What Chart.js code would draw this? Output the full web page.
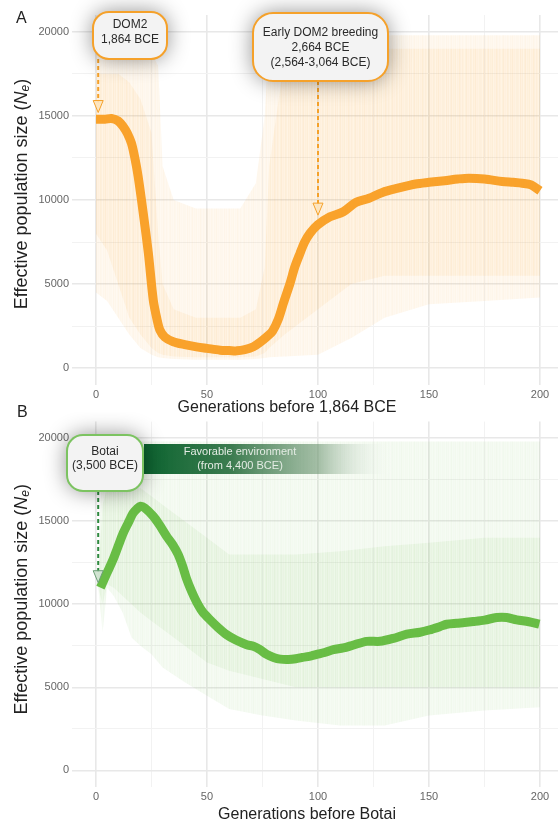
<!DOCTYPE html>
<html>
<head>
<meta charset="utf-8">
<script src="https://cdn.jsdelivr.net/npm/chart.js@4.4.1/dist/chart.umd.min.js"></script>
<style>
    html, body { margin: 0; padding: 0; background: #fff; }
    #wrap { position: relative; width: 558px; height: 825px; overflow: hidden; }
    #chartA { position: absolute; left: 0; top: 0; }
    #chartB { position: absolute; left: 0; top: 412px; }
    .panelLetter { position: absolute; font: 16px "Liberation Sans", Arial, sans-serif; color: #222; }
</style>
</head>
<body>
<div id="wrap">
    <canvas id="chartA" width="558" height="416"></canvas>
    <canvas id="chartB" width="558" height="413"></canvas>
    <div class="panelLetter" style="left:16px; top:9px;">A</div>
    <div class="panelLetter" style="left:17px; top:403px;">B</div>
</div>
<script>
// axis ticks (minor gridlines every 25 generations / 2500 Ne)
const genTicks = [0, 25, 50, 75, 100, 125, 150, 175, 200];
const neTicks = [0, 2500, 5000, 7500, 10000, 12500, 15000, 17500, 20000];

// Panel A - DOM2 horses, median Ne trajectory
const lineGensA = [0, 4, 7, 10, 12.3, 14, 16, 17.5, 19, 21.3, 23.6, 25.8, 27.5, 28.8, 31, 34.8, 40, 45.3, 50, 55.9, 60, 63.4, 67, 70.9, 74, 76.9, 79.5, 82.1, 84.5, 87.4, 89.5, 91.9, 94, 96.4, 99.8, 105.4, 111.4, 117, 123, 129, 136, 144, 150, 157, 163, 168, 175, 183, 188, 192, 196, 200];
const lineNeA = [14800, 14800, 14850, 14700, 14360, 14000, 13370, 12500, 11390, 9210, 6830, 4050, 2900, 2260, 1850, 1570, 1400, 1270, 1180, 1070, 1050, 1030, 1100, 1270, 1550, 1860, 2200, 2900, 3900, 5040, 6000, 6830, 7500, 8020, 8510, 9000, 9300, 9850, 10100, 10450, 10700, 10950, 11050, 11150, 11250, 11300, 11250, 11100, 11050, 11000, 10900, 10550];

// Panel A - spread of the replicate trajectories
const bandGensA = [0, 5, 10, 15, 20, 25, 28, 30, 35, 45, 55, 65, 72, 76, 78, 85, 100, 115, 130, 150, 175, 200];
const outerUpperA = [18700, 18700, 18700, 18700, 18700, 18700, 18000, 12000, 10000, 9500, 9500, 9500, 11000, 15000, 19800, 19800, 19800, 19800, 19800, 19800, 19800, 19800];
const outerLowerA = [4500, 4000, 3000, 2000, 1200, 800, 650, 600, 550, 500, 500, 500, 550, 600, 650, 700, 800, 1800, 3000, 3800, 4000, 4200];
const innerUpperA = [17500, 17500, 17500, 17000, 16000, 14000, 8000, 5000, 3500, 3000, 3000, 3000, 3500, 6000, 12000, 18500, 19000, 19000, 19000, 19000, 19000, 19000];
const innerLowerA = [8000, 7000, 5000, 3000, 2000, 1200, 900, 800, 700, 650, 650, 650, 700, 900, 1200, 2000, 3500, 5000, 5500, 5500, 5500, 5500];

// Panel B - Botai horses, median Ne trajectory
const lineGensB = [2, 5, 7.8, 10, 12.3, 14.5, 16.8, 18.5, 20, 22, 25.8, 28.5, 31.8, 34.5, 37, 39, 40.8, 43, 45.3, 48, 51.4, 55, 58.9, 63, 67.9, 70.9, 73.5, 76.9, 80, 83, 86.6, 90, 93, 97, 99.4, 103, 106.9, 111.4, 116, 121.9, 127.9, 134, 140, 146, 150, 155, 158, 162.5, 166, 170, 175, 180.5, 185, 189.5, 195, 199.7];
const lineNeB = [11000, 11900, 12730, 13500, 14300, 14900, 15500, 15750, 15900, 15800, 15300, 14800, 14100, 13600, 13000, 12300, 11540, 10800, 10150, 9550, 9060, 8600, 8170, 7850, 7570, 7470, 7300, 6980, 6800, 6700, 6680, 6720, 6800, 6900, 6980, 7100, 7270, 7370, 7550, 7770, 7770, 7950, 8200, 8320, 8450, 8660, 8800, 8860, 8900, 8960, 9050, 9200, 9200, 9060, 8950, 8800];

// Panel B - spread of the replicate trajectories
const bandGensB = [1, 3, 5, 8, 12, 16, 20, 25, 30, 40, 50, 60, 75, 90, 110, 130, 150, 175, 200];
const outerUpperB = [12000, 19500, 19800, 19800, 19800, 19800, 19800, 19800, 19800, 19800, 19800, 19800, 19800, 19800, 19800, 19800, 19800, 19800, 19800];
const outerLowerB = [11000, 8300, 11000, 10500, 9500, 8000, 7500, 7000, 6200, 5300, 4500, 3700, 3300, 3000, 2700, 2700, 3300, 3600, 3800];
const innerUpperB = [11500, 16000, 17000, 17000, 17000, 17000, 17000, 16500, 16000, 15000, 14000, 13000, 13000, 13000, 13200, 13500, 13700, 14000, 14000];
const innerLowerB = [11000, 10000, 11200, 11000, 10500, 10000, 9500, 9000, 8500, 7500, 6500, 6000, 5500, 5000, 5000, 5000, 5000, 5000, 5000];

const FONT = '"Liberation Sans", Arial, sans-serif';

// column strengths for the streaky texture of the replicate cloud
const streakAlphas = [0.10, 0.05, 0.14, 0.07, 0.12, 0.04, 0.09, 0.16, 0.06, 0.11, 0.08, 0.13, 0.05, 0.10, 0.07, 0.15, 0.09, 0.06, 0.12, 0.08, 0.04, 0.11, 0.14, 0.07, 0.10, 0.06, 0.13, 0.09, 0.05, 0.12, 0.08, 0.16, 0.07, 0.10, 0.06, 0.11, 0.09];

function toPoints(xs, ys) {
    return xs.map(function (x, i) { return { x: x, y: ys[i] }; });
}

// solid tint with faint vertical streaks
function makeStreaks(rgb, base, spread) {
    const c = document.createElement('canvas');
    c.width = streakAlphas.length;
    c.height = 4;
    const cctx = c.getContext('2d');
    streakAlphas.forEach(function (a, i) {
        cctx.fillStyle = 'rgba(' + rgb + ',' + (base + a * spread).toFixed(3) + ')';
        cctx.fillRect(i, 0, 1, 4);
    });
    return cctx.createPattern(c, 'repeat');
}

// draws axis titles, callout boxes, arrows and the banner
const panelDecor = {
    id: 'panelDecor',
    afterDraw(chart, args, opts) {
        const ctx = chart.ctx;
        const area = chart.chartArea;
        const xScale = chart.scales.x;
        const yScale = chart.scales.y;

        // y title with italic N and subscript e
        const parts = [
            { t: 'Effective population size (', f: '18px ' + FONT, dy: 0 },
            { t: 'N', f: 'italic 18px ' + FONT, dy: 0 },
            { t: 'e', f: 'italic 12px ' + FONT, dy: 4 },
            { t: ')', f: '18px ' + FONT, dy: 0 }
        ];
        ctx.save();
        let total = 0;
        parts.forEach(function (p) { ctx.font = p.f; p.w = ctx.measureText(p.t).width; total += p.w; });
        ctx.translate(opts.yTitleX, (area.top + area.bottom) / 2 + opts.yTitleShift);
        ctx.rotate(-Math.PI / 2);
        ctx.fillStyle = '#222';
        ctx.textBaseline = 'middle';
        ctx.textAlign = 'left';
        let cx = -total / 2;
        parts.forEach(function (p) { ctx.font = p.f; ctx.fillText(p.t, cx, p.dy); cx += p.w; });
        ctx.restore();

        // x title
        ctx.save();
        ctx.font = '16px ' + FONT;
        ctx.fillStyle = '#222';
        ctx.textAlign = 'center';
        ctx.textBaseline = 'middle';
        ctx.fillText(opts.xTitle.text, opts.xTitle.x, opts.xTitle.y);
        ctx.restore();

        // gradient banner
        if (opts.banner) {
            const b = opts.banner;
            ctx.save();
            const grad = ctx.createLinearGradient(b.x1, 0, b.x2, 0);
            grad.addColorStop(0, 'rgba(12,100,48,1)');
            grad.addColorStop(0.35, 'rgba(40,110,62,0.9)');
            grad.addColorStop(0.7, 'rgba(110,150,115,0.6)');
            grad.addColorStop(1, 'rgba(255,255,255,0)');
            ctx.fillStyle = grad;
            ctx.fillRect(b.x1, b.y1, b.x2 - b.x1, b.y2 - b.y1);
            ctx.font = '11px ' + FONT;
            ctx.fillStyle = '#e4ece4';
            ctx.textAlign = 'center';
            ctx.textBaseline = 'middle';
            b.lines.forEach(function (t, i) { ctx.fillText(t, b.textX, b.lineY[i]); });
            ctx.restore();
        }

        // callouts
        opts.callouts.forEach(function (c) {
            const ax = xScale.getPixelForValue(c.arrow.gen);
            const tipY = yScale.getPixelForValue(c.arrow.ne);
            ctx.save();
            ctx.strokeStyle = c.arrow.color;
            ctx.lineWidth = 2;
            ctx.setLineDash([4, 3]);
            ctx.beginPath();
            ctx.moveTo(ax, c.box.y2);
            ctx.lineTo(ax, tipY - 10);
            ctx.stroke();
            ctx.setLineDash([]);
            ctx.beginPath();
            ctx.moveTo(ax - 5, tipY - 12);
            ctx.lineTo(ax + 5, tipY - 12);
            ctx.lineTo(ax, tipY);
            ctx.closePath();
            ctx.fillStyle = c.arrow.headFill;
            ctx.fill();
            ctx.lineWidth = 1;
            ctx.strokeStyle = c.arrow.headStroke;
            ctx.stroke();
            ctx.restore();

            const b = c.box;
            ctx.save();
            ctx.beginPath();
            ctx.roundRect(b.x1, b.y1, b.x2 - b.x1, b.y2 - b.y1, b.r);
            ctx.shadowColor = 'rgba(0,0,0,0.45)';
            ctx.shadowBlur = 22;
            ctx.fillStyle = '#f3f3f3';
            ctx.fill();
            ctx.shadowColor = 'transparent';
            ctx.shadowBlur = 0;
            ctx.lineWidth = 2;
            ctx.strokeStyle = c.border;
            ctx.stroke();
            ctx.font = '12px ' + FONT;
            ctx.fillStyle = '#2a2a2a';
            ctx.textAlign = 'center';
            ctx.textBaseline = 'middle';
            c.lines.forEach(function (t, i) { ctx.fillText(t, (b.x1 + b.x2) / 2, c.lineY[i]); });
            ctx.restore();
        });
    }
};

function buildPanel(canvasId, panel) {
    const canvas = document.getElementById(canvasId);

    return new Chart(canvas, {
        type: 'line',
        data: {
            datasets: [
                {
                    data: toPoints(panel.bandGens, panel.outerUpper),
                    borderWidth: 0, pointRadius: 0, fill: false, order: 3
                },
                {
                    data: toPoints(panel.bandGens, panel.outerLower),
                    borderWidth: 0, pointRadius: 0, fill: '-1',
                    backgroundColor: makeStreaks(panel.cloudRgb, panel.outerBase, 0.4), order: 3
                },
                {
                    data: toPoints(panel.bandGens, panel.innerUpper),
                    borderWidth: 0, pointRadius: 0, fill: false, order: 2
                },
                {
                    data: toPoints(panel.bandGens, panel.innerLower),
                    borderWidth: 0, pointRadius: 0, fill: '-1',
                    backgroundColor: makeStreaks(panel.cloudRgb, panel.innerBase, 0.4), order: 2
                },
                {
                    data: toPoints(panel.lineGens, panel.lineNe),
                    borderColor: panel.lineColor,
                    borderWidth: 9,
                    borderCapStyle: 'butt',
                    borderJoinStyle: 'round',
                    pointRadius: 0,
                    tension: 0.3,
                    fill: false,
                    order: 0
                }
            ]
        },
        options: {
            responsive: false,
            animation: false,
            layout: {
                padding: { top: panel.padTop, right: 0, bottom: 0, left: 0 }
            },
            scales: {
                x: {
                    type: 'linear',
                    min: -10.8,
                    max: 208.1,
                    afterBuildTicks: function (scale) {
                        scale.ticks = genTicks.map(function (v) { return { value: v }; });
                    },
                    afterFit: function (scale) { scale.height = panel.xAxisHeight; },
                    ticks: {
                        autoSkip: false,
                        maxRotation: 0,
                        padding: 3,
                        color: '#666',
                        font: { family: FONT, size: 11 },
                        callback: function (value) { return value % 50 === 0 ? String(value) : ''; }
                    },
                    grid: {
                        drawTicks: false,
                        color: function (ctx) { return ctx.tick && ctx.tick.value % 50 === 0 ? '#e8e8e8' : '#f2f2f2'; },
                        lineWidth: function (ctx) { return ctx.tick && ctx.tick.value % 50 === 0 ? 1.6 : 1; }
                    },
                    border: { display: false }
                },
                y: {
                    type: 'linear',
                    min: -1000,
                    max: 21000,
                    afterBuildTicks: function (scale) {
                        scale.ticks = neTicks.map(function (v) { return { value: v }; });
                    },
                    afterFit: function (scale) { scale.width = 72; },
                    ticks: {
                        autoSkip: false,
                        padding: 3,
                        color: '#666',
                        font: { family: FONT, size: 11 },
                        callback: function (value) { return value % 5000 === 0 ? String(value) : ''; }
                    },
                    grid: {
                        drawTicks: false,
                        color: function (ctx) { return ctx.tick && ctx.tick.value % 5000 === 0 ? '#e8e8e8' : '#f2f2f2'; },
                        lineWidth: function (ctx) { return ctx.tick && ctx.tick.value % 5000 === 0 ? 1.6 : 1; }
                    },
                    border: { display: false }
                }
            },
            plugins: {
                legend: { display: false },
                tooltip: { enabled: false },
                panelDecor: panel.decor
            }
        },
        plugins: [panelDecor]
    });
}

buildPanel('chartA', {
    lineGens: lineGensA, lineNe: lineNeA,
    bandGens: bandGensA,
    outerUpper: outerUpperA, outerLower: outerLowerA,
    innerUpper: innerUpperA, innerLower: innerLowerA,
    lineColor: '#f9a22b',
    cloudRgb: '249,165,50',
    outerBase: 0.05,
    innerBase: 0.05,
    padTop: 15,
    xAxisHeight: 31,
    decor: {
        yTitleX: 22, yTitleShift: -6,
        xTitle: { text: 'Generations before 1,864 BCE', x: 287, y: 408 },
        callouts: [
            {
                box: { x1: 93, y1: 12, x2: 167, y2: 59, r: 16 },
                lines: ['DOM2', '1,864 BCE'], lineY: [25, 40],
                border: '#f5a12a',
                arrow: { gen: 1, ne: 15200, color: '#f5a12a', headFill: 'rgba(253,228,190,0.9)', headStroke: '#f5a12a' }
            },
            {
                box: { x1: 253, y1: 13, x2: 388, y2: 81, r: 20 },
                lines: ['Early DOM2 breeding', '2,664 BCE', '(2,564-3,064 BCE)'], lineY: [33, 48, 63],
                border: '#f5a12a',
                arrow: { gen: 100, ne: 9100, color: '#f5a12a', headFill: 'rgba(253,228,190,0.9)', headStroke: '#f5a12a' }
            }
        ]
    }
});

buildPanel('chartB', {
    lineGens: lineGensB, lineNe: lineNeB,
    bandGens: bandGensB,
    outerUpper: outerUpperB, outerLower: outerLowerB,
    innerUpper: innerUpperB, innerLower: innerLowerB,
    lineColor: '#68bd45',
    cloudRgb: '120,192,85',
    outerBase: 0.045,
    innerBase: 0.05,
    padTop: 5,
    xAxisHeight: 38,
    decor: {
        yTitleX: 22, yTitleShift: -5,
        xTitle: { text: 'Generations before Botai', x: 307, y: 403 },
        banner: {
            x1: 144, y1: 32, x2: 393, y2: 62, textX: 240, lineY: [40, 54],
            lines: ['Favorable environment', '(from 4,400 BCE)']
        },
        callouts: [
            {
                box: { x1: 67, y1: 23, x2: 143, y2: 79, r: 16 },
                lines: ['Botai', '(3,500 BCE)'], lineY: [40, 54],
                border: '#7cc361',
                arrow: { gen: 1, ne: 11300, color: '#2f8a40', headFill: 'rgba(205,225,205,0.9)', headStroke: '#6a9f74' }
            }
        ]
    }
});
</script>
</body>
</html>
